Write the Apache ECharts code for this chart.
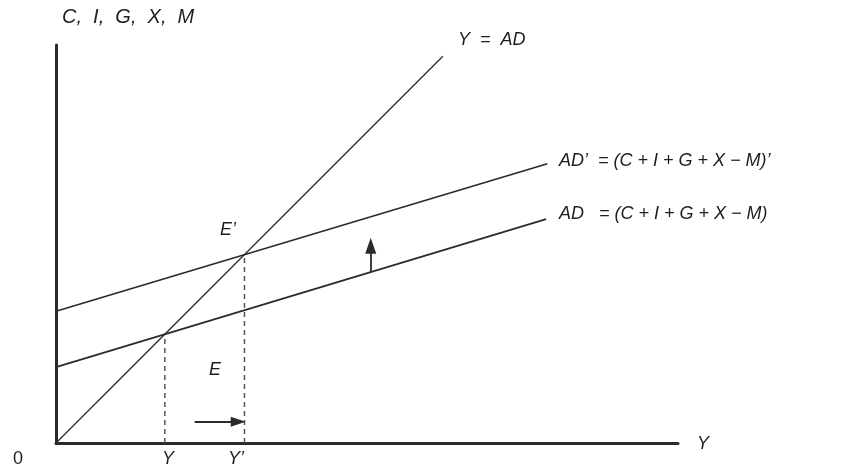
<!DOCTYPE html>
<html>
<head>
<meta charset="utf-8">
<script src="https://cdn.jsdelivr.net/npm/echarts@6/dist/echarts.min.js"></script>
<style>
  html, body { margin: 0; padding: 0; background: #ffffff; }
  #chart { width: 857px; height: 472px; }
</style>
</head>
<body>
<div id="chart"></div>
<script>
// Keynesian cross: national income Y against aggregate demand (C, I, G, X, M)
const incomeMax = 100;
const demandMax = 64;

// 45-degree equilibrium line Y = AD
const equalityLine = [[0, 0], [62.2, 62.2]];
// Aggregate demand AD and the shifted schedule AD'
const adLine = [[0, 12.2], [78.8, 36.0]];
const adShiftedLine = [[0, 21.2], [79.0, 44.9]];
// Equilibrium points E and E'
const pointE = [17.5, 17.5];
const pointE2 = [30.3, 30.3];
// Direction-of-shift arrows
const arrowUp = [[50.6, 27.5], [50.6, 31.7]];
const arrowRight = [[22.3, 3.4], [29.3, 3.4]];

const ink = '#2a2a2a';
const labelFont = '"Liberation Sans", Arial, sans-serif';

function solidLine(data, width) {
  return {
    type: 'line', data: data, symbol: 'none', silent: true,
    lineStyle: { color: ink, width: width }, z: 3
  };
}
function dropLine(point) {
  return {
    type: 'line', data: [[point[0], 0], point], symbol: 'none', silent: true,
    lineStyle: { color: '#555', width: 1.5, type: [5, 4] }, z: 2
  };
}
function arrow(seg, headSize) {
  return {
    type: 'lines', coordinateSystem: 'cartesian2d', silent: true,
    data: [{ coords: seg }],
    symbol: ['none', 'triangle'],
    symbolSize: [0, headSize],
    lineStyle: { color: '#2a2a2a', width: 1.8, opacity: 1, curveness: 0 },
    itemStyle: { color: '#1e1e1e' }, z: 4
  };
}
function label(text, x, y, italic, size) {
  return {
    type: 'text', left: x, top: y - (size || 18) / 2 - 1, silent: true,
    style: {
      text: text, fill: '#1e1e1e',
      font: (italic === false ? '' : 'italic ') + (size || 18) + 'px ' + labelFont
    }
  };
}

const chart = echarts.init(document.getElementById('chart'), null, { renderer: 'canvas' });
chart.setOption({
  backgroundColor: '#ffffff',
  animation: false,
  grid: { left: 56, top: 45, width: 622, height: 398 },
  xAxis: {
    type: 'value', min: 0, max: incomeMax,
    axisLine: { show: true, lineStyle: { color: ink, width: 3 } },
    axisTick: { show: false }, axisLabel: { show: false }, splitLine: { show: false }
  },
  yAxis: {
    type: 'value', min: 0, max: demandMax,
    axisLine: { show: true, lineStyle: { color: ink, width: 3 } },
    axisTick: { show: false }, axisLabel: { show: false }, splitLine: { show: false }
  },
  series: [
    solidLine(equalityLine, 1.3),
    solidLine(adLine, 1.6),
    solidLine(adShiftedLine, 1.6),
    dropLine(pointE),
    dropLine(pointE2),
    arrow(arrowUp, [11, 16]),
    arrow(arrowRight, [10, 15])
  ],
  graphic: [
    label('C,  I,  G,  X,  M', 62, 18, true, 20),
    label('Y  =  AD', 458, 41),
    label('AD\u2019  = (C + I + G + X \u2212 M)\u2019', 559, 162),
    label('AD   = (C + I + G + X \u2212 M)', 559, 215),
    label('E\u2019', 220, 231),
    label('E', 209, 371),
    label('0', 13, 460, false),
    label('Y', 162, 460),
    label('Y\u2019', 228, 460),
    label('Y', 697, 445)
  ]
});
</script>
</body>
</html>
